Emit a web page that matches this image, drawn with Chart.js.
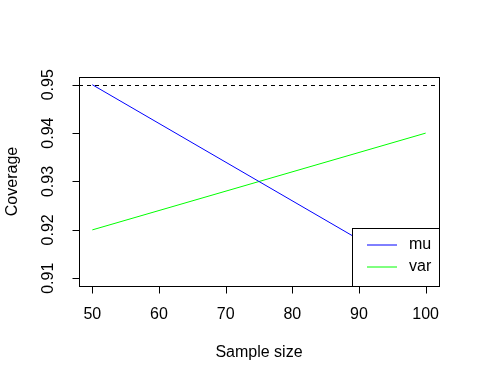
<!DOCTYPE html>
<html>
<head>
<meta charset="utf-8">
<script src="https://cdn.jsdelivr.net/npm/chart.js@4"></script>
<style>
  html, body { margin: 0; padding: 0; background: #fff; }
  #wrap { width: 480px; height: 384px; }
</style>
</head>
<body>
<div id="wrap"><canvas id="chart" width="480" height="384"></canvas></div>
<script>
const sampleSizes = [50, 75, 100];
const muCoverage = [0.95, 0.93, 0.91];
const varCoverage = [0.92, 0.93, 0.94];
const xTicks = [50, 60, 70, 80, 90, 100];
const yTicks = [0.91, 0.92, 0.93, 0.94, 0.95];
const yTickLabels = ['0.91', '0.92', '0.93', '0.94', '0.95'];
const nominal = 0.95;

const FONT = '16px "Liberation Sans", Arial, sans-serif';

// R-style axes, box, reference line and legend
const baseGraphics = {
  id: 'baseGraphics',
  beforeDatasetsDraw(chart) {
    const { ctx, chartArea: a, scales: { y } } = chart;
    const yy = Math.round(y.getPixelForValue(nominal)) + 0.5;
    ctx.save();
    ctx.beginPath();
    ctx.rect(a.left, a.top, a.right - a.left, a.bottom - a.top);
    ctx.clip();
    ctx.strokeStyle = '#000';
    ctx.lineWidth = 1;
    ctx.setLineDash([4, 4]);
    ctx.beginPath();
    ctx.moveTo(a.left, yy);
    ctx.lineTo(a.right, yy);
    ctx.stroke();
    ctx.restore();
  },
  afterDraw(chart) {
    const { ctx, chartArea: a, scales: { x, y } } = chart;
    ctx.save();
    ctx.lineWidth = 1;
    ctx.font = FONT;

    const L = Math.round(a.left) + 0.5, R = Math.round(a.right) + 0.5;
    const T = Math.round(a.top) + 0.5, B = Math.round(a.bottom) + 0.5;

    // legend (bottom right)
    const lx = 352.5, ly = 228.5;
    ctx.fillStyle = '#fff';
    ctx.fillRect(lx, ly, R - lx, B - ly);
    ctx.strokeStyle = '#000';
    ctx.strokeRect(lx, ly, R - lx, B - ly);
    const entries = [['mu', '#0000ff'], ['var', '#00ff00']];
    entries.forEach(([name, col], i) => {
      const ey = 245 + i * 22;
      ctx.beginPath();
      ctx.strokeStyle = col;
      ctx.moveTo(367, ey);
      ctx.lineTo(397, ey);
      ctx.stroke();
      ctx.fillStyle = '#000';
      ctx.textAlign = 'left';
      ctx.textBaseline = 'middle';
      ctx.fillText(name, 409, ey);
    });

    // box
    ctx.strokeStyle = '#000';
    ctx.strokeRect(L, T, R - L, B - T);

    // x axis
    const x0 = Math.round(x.getPixelForValue(xTicks[0])) + 0.5;
    const x1 = Math.round(x.getPixelForValue(xTicks[xTicks.length - 1])) + 0.5;
    ctx.beginPath();
    ctx.moveTo(x0, B); ctx.lineTo(x1, B);
    xTicks.forEach(v => {
      const px = Math.round(x.getPixelForValue(v)) + 0.5;
      ctx.moveTo(px, B); ctx.lineTo(px, B + 7);
    });
    ctx.stroke();
    ctx.fillStyle = '#000';
    ctx.textAlign = 'center';
    ctx.textBaseline = 'middle';
    xTicks.forEach(v => ctx.fillText(String(v), x.getPixelForValue(v), 315));
    ctx.fillText('Sample size', (a.left + a.right) / 2, 353);

    // y axis
    const y0 = Math.round(y.getPixelForValue(yTicks[0])) + 0.5;
    const y1 = Math.round(y.getPixelForValue(yTicks[yTicks.length - 1])) + 0.5;
    ctx.beginPath();
    ctx.moveTo(L, y0); ctx.lineTo(L, y1);
    yTicks.forEach(v => {
      const py = Math.round(y.getPixelForValue(v)) + 0.5;
      ctx.moveTo(L, py); ctx.lineTo(L - 7, py);
    });
    ctx.stroke();
    yTicks.forEach((v, i) => {
      ctx.save();
      ctx.translate(49, y.getPixelForValue(v));
      ctx.rotate(-Math.PI / 2);
      ctx.fillText(yTickLabels[i], 0, 0);
      ctx.restore();
    });
    ctx.save();
    ctx.translate(13, (a.top + a.bottom) / 2);
    ctx.rotate(-Math.PI / 2);
    ctx.fillText('Coverage', 0, 0);
    ctx.restore();

    ctx.restore();
  }
};

new Chart(document.getElementById('chart'), {
  type: 'scatter',
  data: {
    datasets: [
      {
        label: 'mu',
        data: sampleSizes.map((s, i) => ({ x: s, y: muCoverage[i] })),
        showLine: true,
        borderColor: '#0000ff',
        borderWidth: 1,
        pointRadius: 0
      },
      {
        label: 'var',
        data: sampleSizes.map((s, i) => ({ x: s, y: varCoverage[i] })),
        showLine: true,
        borderColor: '#00ff00',
        borderWidth: 1,
        pointRadius: 0
      }
    ]
  },
  options: {
    responsive: false,
    animation: false,
    events: [],
    layout: { padding: { left: 79, top: 77, right: 41, bottom: 98 } },
    scales: {
      x: { type: 'linear', min: 48, max: 102, display: false },
      y: { type: 'linear', min: 0.9084, max: 0.9516, display: false }
    },
    plugins: {
      legend: { display: false },
      tooltip: { enabled: false }
    }
  },
  plugins: [baseGraphics]
});
</script>
</body>
</html>
